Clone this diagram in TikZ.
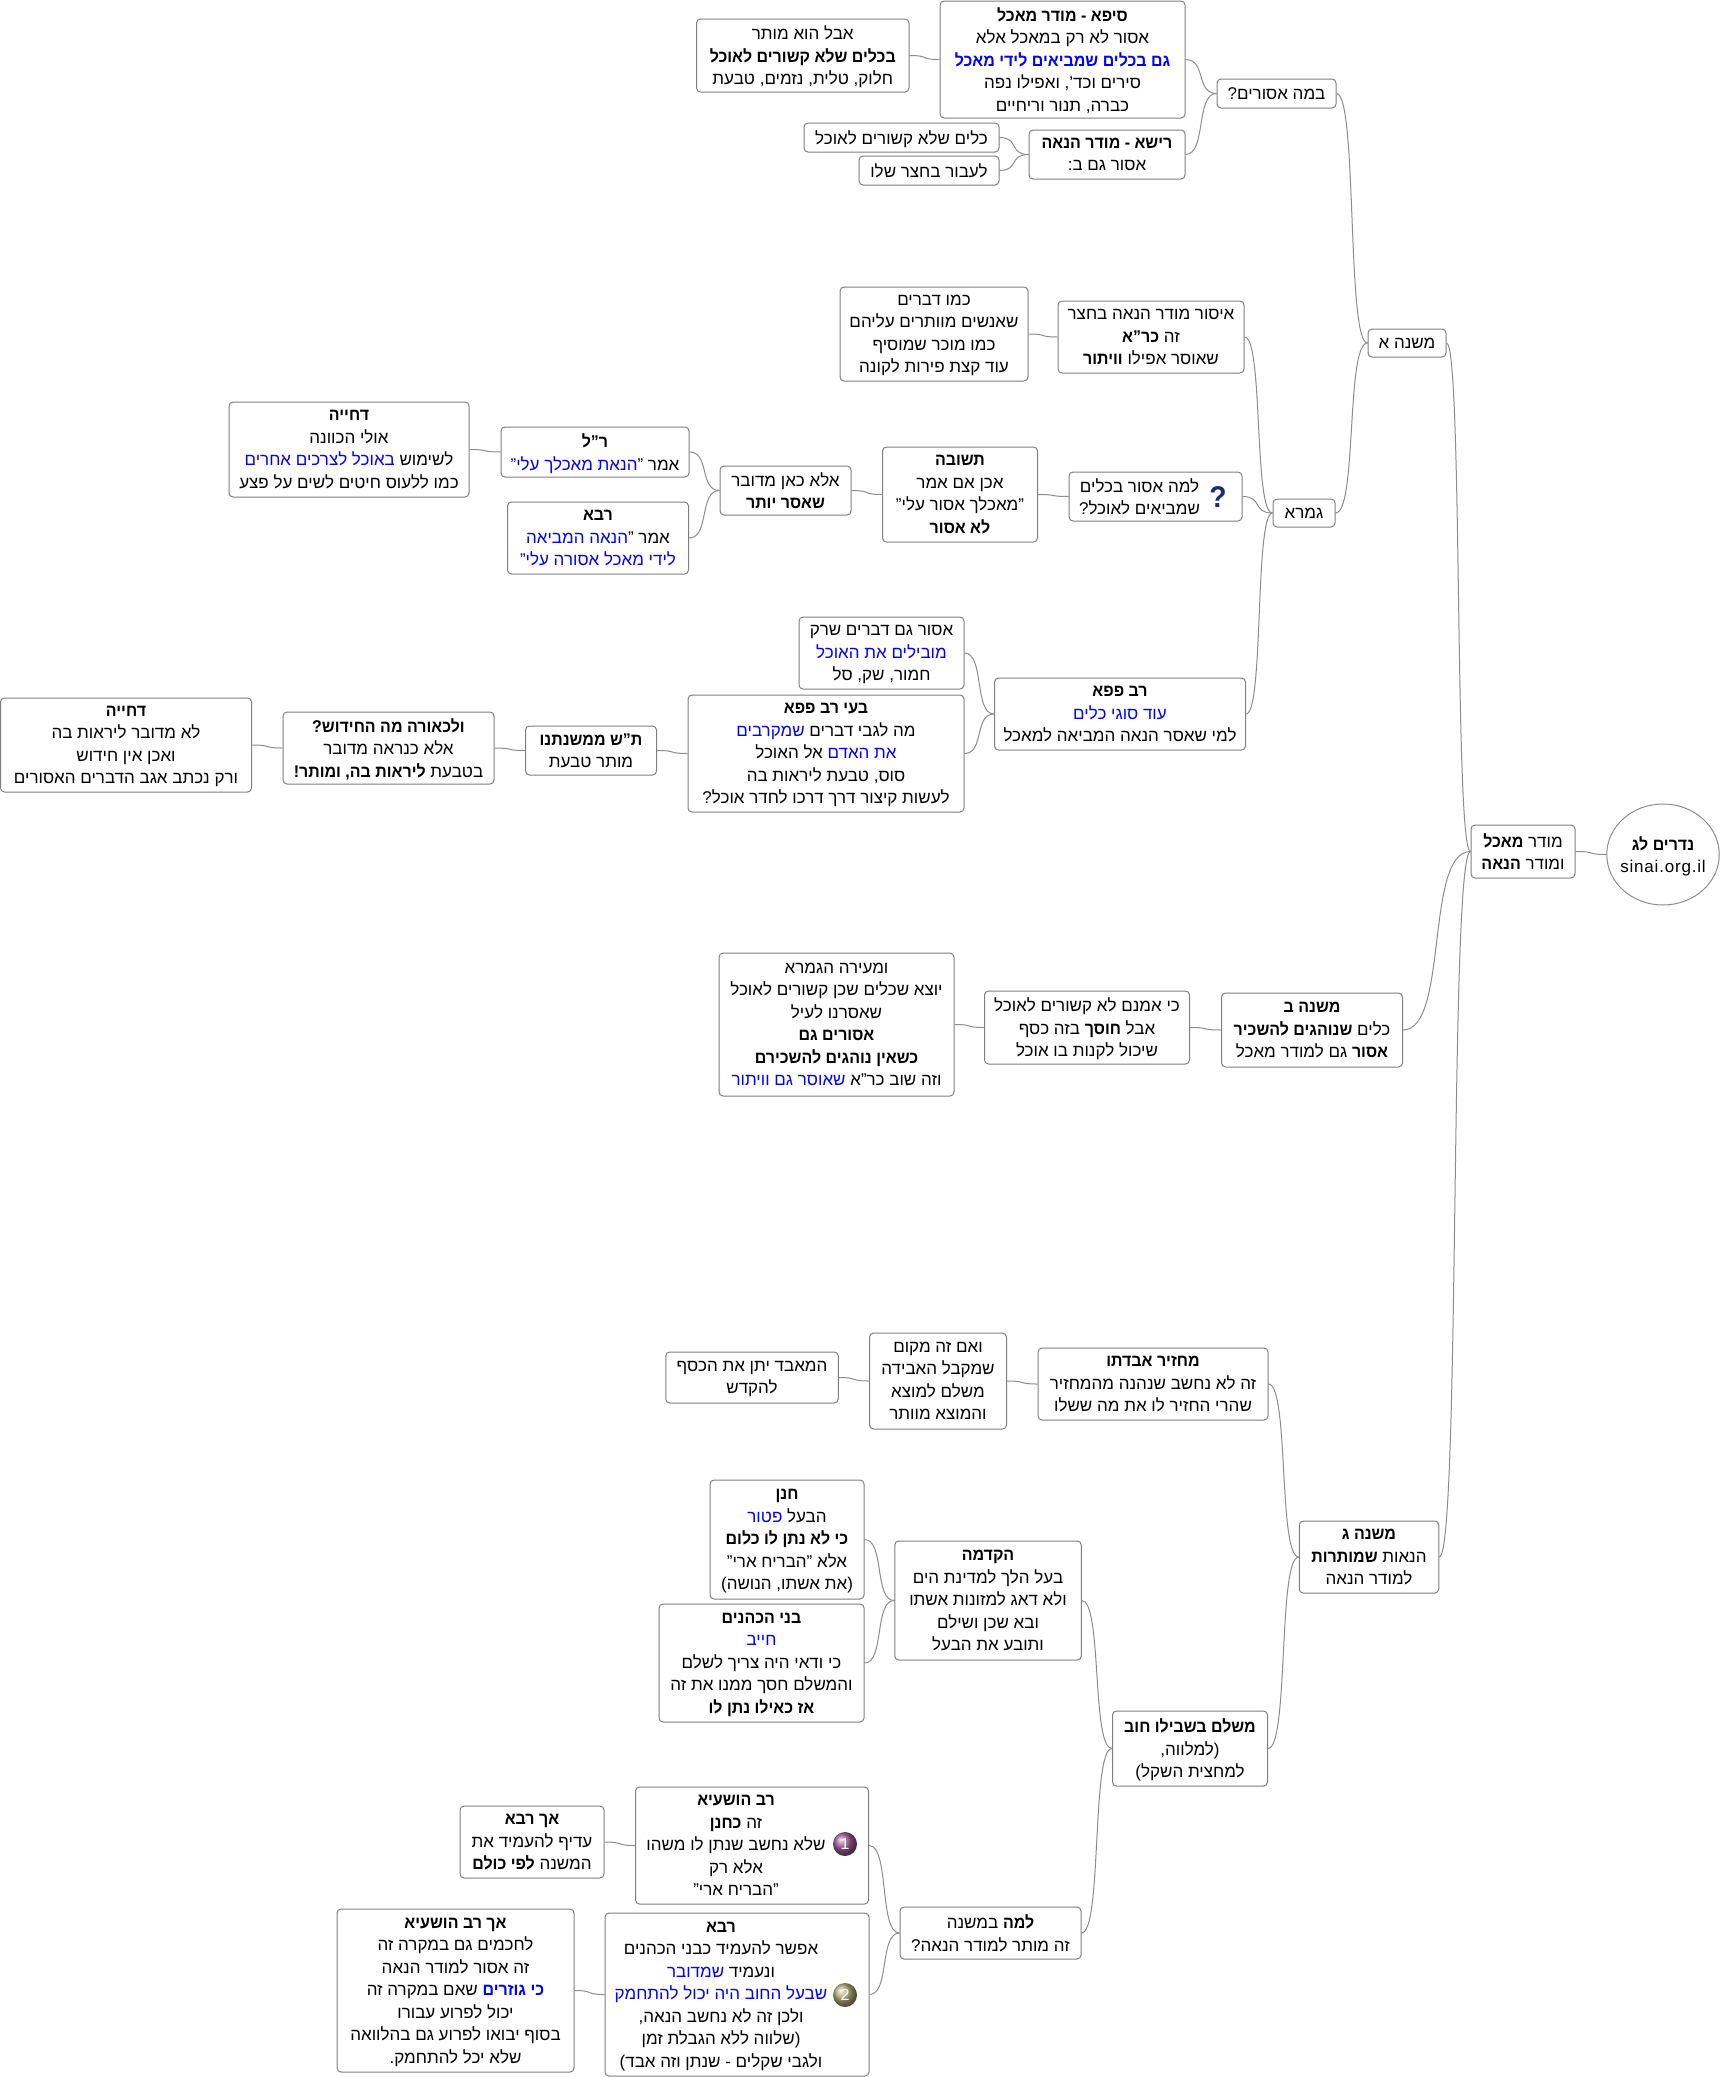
\documentclass[tikz,border=0pt]{standalone}
\usepackage{fontspec}
\setmainfont[Script=Hebrew,BoldFeatures={FakeStretch=0.94}]{Liberation Sans}
\TeXXeTstate=1
\usetikzlibrary{shapes.geometric,calc}
\definecolor{nline}{HTML}{8C8C8C}
\definecolor{nframe}{HTML}{7F7F7F}
\definecolor{nblue}{HTML}{0000FF}
\definecolor{nnavy}{HTML}{1B2A78}
\definecolor{npurple}{HTML}{A05A92}
\definecolor{nolive}{HTML}{B3AE7C}
\newcommand{\rl}[1]{\beginR #1\endR}
\newcommand{\rli}[1]{\beginR\kern32pt #1\endR}
\newcommand{\bl}[1]{\textcolor{nblue}{#1}}
\tikzset{
 topic/.style={draw=nframe, line width=1pt, rounded corners=4pt, fill=white, align=center, inner sep=0pt,
  text depth=0pt, font=\fontsize{17}{22.5}\selectfont},
 badge/.style={circle, minimum size=24pt, inner sep=0pt, text=white, font=\fontsize{16}{16}\selectfont},
 link/.style={nline, line width=1pt, to path={let \p1=(\tikztostart),\p2=(\tikztotarget),\n1={0.68*abs(\x1-\x2)} in
  .. controls +(-\n1,0) and +(\n1,0) .. (\tikztotarget)}}
}
\begin{document}
\begin{tikzpicture}[x=1pt,y=-1pt]
 \useasboundingbox (0,0) rectangle (1720,2077);
 % root and first level
 \node[topic, draw=nline, ellipse, inner xsep=-8pt, minimum width=112.5, minimum height=101] (root) at (1663,854.5) {\rl{\textbf{נדרים לג}}\\{\addfontfeatures{LetterSpace=4.7}sinai.org.il}};
 \node[topic, minimum width=104, minimum height=53] (moder) at (1523,851.5) {\rl{מודר \textbf{מאכל}}\\\rl{ומודר \textbf{הנאה}}};
 \node[topic, minimum width=78, minimum height=28] (mishnaa) at (1407,343) {\rl{משנה א}};
 \node[topic, minimum width=181, minimum height=74] (mishnab) at (1312,1030) {\rl{\textbf{משנה ב}}\\\rl{כלים \textbf{שנוהגים להשכיר}}\\\rl{\textbf{אסור} גם למודר מאכל}};
 \node[topic, minimum width=139.5, minimum height=72] (mishnag) at (1369,1557) {\rl{\textbf{משנה ג}}\\\rl{הנאות \textbf{שמותרות}}\\\rl{למודר הנאה}};
 % mishna a
 \node[topic, minimum width=119, minimum height=29] (bameh) at (1276.5,93.5) {\rl{במה אסורים?}};
 \node[topic, minimum width=245, minimum height=117] (sifa) at (1062.5,59.5) {\rl{\textbf{סיפא - מודר מאכל}}\\\rl{אסור לא רק במאכל אלא}\\\bl{\rl{\textbf{גם בכלים שמביאים לידי מאכל}}}\\\rl{סירים וכד', ואפילו נפה}\\\rl{כברה, תנור וריחיים}};
 \node[topic, minimum width=212.5, minimum height=73] (aval) at (802.75,55.5) {\rl{אבל הוא מותר}\\\rl{\textbf{בכלים שלא קשורים לאוכל}}\\\rl{חלוק, טלית, נזמים, טבעת}};
 \node[topic, minimum width=156, minimum height=49] (reisha) at (1107,154.5) {\rl{\textbf{רישא - מודר הנאה}}\\\rl{אסור גם ב:}};
 \node[topic, minimum width=195, minimum height=29] (kelim) at (901.5,137.5) {\rl{כלים שלא קשורים לאוכל}};
 \node[topic, minimum width=140, minimum height=29] (laavor) at (929,170.5) {\rl{לעבור בחצר שלו}};
 % gemara
 \node[topic, minimum width=62, minimum height=28] (gemara) at (1304,513) {\rl{גמרא}};
 \node[topic, minimum width=186, minimum height=72] (issur) at (1151,337) {\rl{איסור מודר הנאה בחצר}\\\rl{זה \textbf{כר"א}}\\\rl{שאוסר אפילו \textbf{וויתור}}};
 \node[topic, minimum width=188, minimum height=94] (kmo) at (934,334) {\rl{כמו דברים}\\\rl{שאנשים מוותרים עליהם}\\\rl{כמו מוכר שמוסיף}\\\rl{עוד קצת פירות לקונה}};
 \node[topic, minimum width=173, minimum height=49] (lama) at (1155.5,496.5) {\rli{למה אסור בכלים}\\\rli{שמביאים לאוכל?}};
 \node[text=nnavy, inner sep=0pt, font=\fontsize{30}{30}\selectfont\bfseries] (qmark) at (1218,497) {?};
 \node[topic, minimum width=155, minimum height=95] (tshuva) at (960,494.5) {\rl{\textbf{תשובה}}\\\rl{אכן אם אמר}\\\rl{"מאכלך אסור עלי"}\\\rl{\textbf{לא אסור}}};
 \node[topic, minimum width=131, minimum height=49] (ela) at (785.5,490.5) {\rl{אלא כאן מדובר}\\\rl{\textbf{שאסר יותר}}};
 \node[topic, minimum width=188, minimum height=50] (resh) at (595,452) {\rl{\textbf{ר"ל}}\\\bl{\rl{הנאת מאכלך עלי"}}\rl{אמר "}};
 \node[topic, minimum width=181, minimum height=72] (rava) at (598,538) {\rl{\textbf{רבא}}\\\bl{\rl{הנאה המביאה}}\rl{אמר "}\\\bl{\rl{לידי מאכל אסורה עלי"}}};
 \node[topic, minimum width=240, minimum height=95] (dchiya) at (349,449.5) {\rl{\textbf{דחייה}}\\\rl{אולי הכוונה}\\\bl{\rl{באוכל לצרכים אחרים}} \rl{לשימוש}\\\rl{כמו ללעוס חיטים לשים על פצע}};
 \node[topic, minimum width=251, minimum height=72] (ravpapa) at (1120,714) {\rl{\textbf{רב פפא}}\\\bl{\rl{עוד סוגי כלים}}\\\rl{למי שאסר הנאה המביאה למאכל}};
 \node[topic, minimum width=165, minimum height=72] (asur) at (881.5,653) {\rl{אסור גם דברים שרק}\\\bl{\rl{מובילים את האוכל}}\\\rl{חמור, שק, סל}};
 \node[topic, minimum width=276, minimum height=117] (bei) at (826,753.5) {\rl{\textbf{בעי רב פפא}}\\\bl{\rl{שמקרבים}} \rl{מה לגבי דברים}\\\rl{אל האוכל} \bl{\rl{את האדם}}\\\rl{סוס, טבעת ליראות בה}\\\rl{לעשות קיצור דרך דרכו לחדר אוכל?}};
 \node[topic, minimum width=131, minimum height=49] (tash) at (591,750.5) {\rl{\textbf{ת"ש ממשנתנו}}\\\rl{מותר טבעת}};
 \node[topic, minimum width=211, minimum height=72] (vlichora) at (388.5,748) {\rl{\textbf{ולכאורה מה החידוש?}}\\\rl{אלא כנראה מדובר}\\\rl{בטבעת \textbf{ליראות בה, ומותר!}}};
 \node[topic, minimum width=251, minimum height=94] (dchiyab) at (126,745) {\rl{\textbf{דחייה}}\\\rl{לא מדובר ליראות בה}\\\rl{ואכן אין חידוש}\\\rl{ורק נכתב אגב הדברים האסורים}};
 % mishna b
 \node[topic, minimum width=205, minimum height=73] (ki) at (1087,1027.5) {\rl{כי אמנם לא קשורים לאוכל}\\\rl{אבל \textbf{חוסך} בזה כסף}\\\rl{שיכול לקנות בו אוכל}};
 \node[topic, minimum width=235, minimum height=143] (umeira) at (836.5,1024.5) {\rl{ומעירה הגמרא}\\\rl{יוצא שכלים שכן קשורים לאוכל}\\\rl{שאסרנו לעיל}\\\rl{\textbf{אסורים גם}}\\\rl{\textbf{כשאין נוהגים להשכירם}}\\\bl{\rl{שאוסר גם וויתור}} \rl{וזה שוב כר"א}};
 % mishna g
 \node[topic, minimum width=230, minimum height=72] (machzir) at (1153,1384) {\rl{\textbf{מחזיר אבדתו}}\\\rl{זה לא נחשב שנהנה מהמחזיר}\\\rl{שהרי החזיר לו את מה ששלו}};
 \node[topic, minimum width=137, minimum height=96] (veim) at (938,1381) {\rl{ואם זה מקום}\\\rl{שמקבל האבידה}\\\rl{משלם למוצא}\\\rl{והמוצא מוותר}};
 \node[topic, minimum width=172.5, minimum height=51] (hamaabad) at (752,1377.5) {\rl{המאבד יתן את הכסף}\\\rl{להקדש}};
 \node[topic, minimum width=155, minimum height=75] (meshalem) at (1190,1748.5) {\rl{\textbf{משלם בשבילו חוב}}\\\rl{(למלווה,}\\\rl{למחצית השקל)}};
 \node[topic, minimum width=186.5, minimum height=119] (hakdama) at (988,1600.5) {\rl{\textbf{הקדמה}}\\\rl{בעל הלך למדינת הים}\\\rl{ולא דאג למזונות אשתו}\\\rl{ובא שכן ושילם}\\\rl{ותובע את הבעל}};
 \node[topic, minimum width=154, minimum height=119] (chanan) at (787,1539.5) {\rl{\textbf{חנן}}\\\bl{\rl{פטור}} \rl{הבעל}\\\rl{\textbf{כי לא נתן לו כלום}}\\\rl{אלא "הבריח ארי"}\\\rl{(את אשתו, הנושה)}};
 \node[topic, minimum width=205, minimum height=118] (bnei) at (761.5,1663) {\rl{\textbf{בני הכהנים}}\\\bl{\rl{חייב}}\\\rl{כי ודאי היה צריך לשלם}\\\rl{והמשלם חסך ממנו את זה}\\\rl{\textbf{אז כאילו נתן לו}}};
 \node[topic, minimum width=181, minimum height=52] (lamab) at (990.5,1933) {\rl{\textbf{למה} במשנה}\\\rl{זה מותר למודר הנאה?}};
 \node[topic, minimum width=233, minimum height=117] (hoshaya) at (752,1845.5) {\rli{\textbf{רב הושעיא}}\\\rli{זה \textbf{כחנן}}\\\rli{שלא נחשב שנתן לו משהו}\\\rli{אלא רק}\\\rli{"הבריח ארי"}};
 \node[badge, ball color=npurple] (one) at (845,1844) {1};
 \node[topic, minimum width=144, minimum height=72] (achrava) at (532,1842) {\rl{\textbf{אך רבא}}\\\rl{עדיף להעמיד את}\\\rl{המשנה \textbf{לפי כולם}}};
 \node[topic, minimum width=264, minimum height=163] (ravab) at (737,1994.5) {\rli{\textbf{רבא}}\\\rli{אפשר להעמיד כבני הכהנים}\\\bl{\rl{שמדובר}} \rli{ונעמיד}\\\bl{\rli{שבעל החוב היה יכול להתחמק}}\\\rli{ולכן זה לא נחשב הנאה,}\\\rli{(שלווה ללא הגבלת זמן}\\\rli{ולגבי שקלים - שנתן וזה אבד)}};
 \node[badge, ball color=nolive] (two) at (845,1995) {2};
 \node[topic, minimum width=237, minimum height=163] (achhoshaya) at (455.5,1990.5) {\rl{\textbf{אך רב הושעיא}}\\\rl{לחכמים גם במקרה זה}\\\rl{זה אסור למודר הנאה}\\\rl{שאם במקרה זה} \bl{\rl{\textbf{כי גוזרים}}}\\\rl{יכול לפרוע עבורו}\\\rl{בסוף יבואו לפרוע גם בהלוואה}\\\rl{שלא יכל להתחמק.}};
 % connectors
 \foreach \from/\to in {root/moder, moder/mishnaa, moder/mishnab, moder/mishnag,
  mishnaa/bameh, mishnaa/gemara, bameh/sifa, bameh/reisha, sifa/aval, reisha/kelim, reisha/laavor,
  gemara/issur, gemara/lama, gemara/ravpapa, issur/kmo, lama/tshuva, tshuva/ela, ela/resh, ela/rava, resh/dchiya,
  ravpapa/asur, ravpapa/bei, bei/tash, tash/vlichora, vlichora/dchiyab,
  mishnab/ki, ki/umeira,
  mishnag/machzir, mishnag/meshalem, machzir/veim, veim/hamaabad,
  meshalem/hakdama, meshalem/lamab, hakdama/chanan, hakdama/bnei,
  lamab/hoshaya, lamab/ravab, hoshaya/achrava, ravab/achhoshaya}
  \draw[link] (\from.west) to (\to.east);
\end{tikzpicture}
\end{document}
